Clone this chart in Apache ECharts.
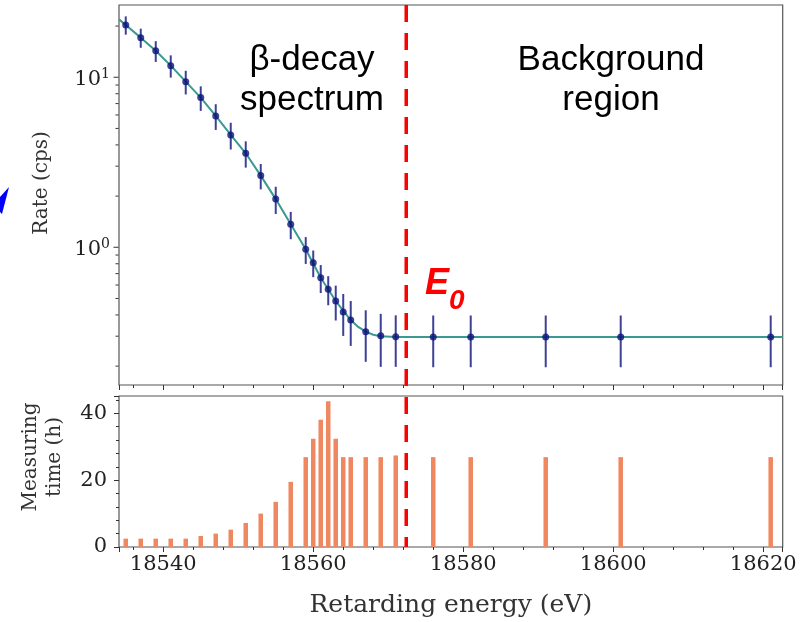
<!DOCTYPE html>
<html>
<head>
<meta charset="utf-8">
<script src="https://cdn.jsdelivr.net/npm/echarts@6/dist/echarts.min.js"></script>
<style>
  html, body { margin: 0; padding: 0; background: #ffffff; }
  #chart { width: 804px; height: 622px; }
</style>
</head>
<body>
<div id="chart"></div>
<script>
// ---------------- data ----------------
const energies = [18535, 18537, 18539, 18541, 18543, 18545, 18547, 18549, 18551, 18553, 18555, 18557, 18559, 18560, 18561, 18562, 18563, 18564, 18565, 18567, 18569, 18571, 18576, 18581, 18591, 18601, 18621];
const rate = [20.3, 17.1, 14.3, 11.7, 9.42, 7.59, 5.92, 4.58, 3.57, 2.64, 1.92, 1.365, 0.973, 0.812, 0.662, 0.566, 0.483, 0.416, 0.373, 0.319, 0.302, 0.298, 0.297, 0.297, 0.297, 0.297, 0.297];
const rateErr = [2.5, 2.2, 2.0, 1.75, 1.5, 1.25, 1.02, 0.82, 0.63, 0.45, 0.35, 0.25, 0.175, 0.145, 0.124, 0.11, 0.112, 0.115, 0.11, 0.107, 0.104, 0.1, 0.1, 0.1, 0.1, 0.1, 0.1];
const measTime = [2.5, 2.5, 2.5, 2.5, 2.5, 3.3, 4.0, 5.2, 7.2, 10.0, 13.5, 19.5, 26.9, 32.4, 38.1, 43.6, 32.4, 26.9, 26.9, 26.9, 26.9, 27.4, 26.9, 26.9, 26.9, 26.9, 26.9];
const fitEnergy = [18534.1, 18535, 18537, 18539, 18541, 18543, 18545, 18547, 18549, 18551, 18553, 18555, 18557, 18559, 18561, 18563, 18565, 18566, 18567, 18568, 18569, 18571, 18622.6];
const fitRate = [21.9, 20.3, 17.1, 14.3, 11.7, 9.42, 7.59, 5.92, 4.58, 3.57, 2.64, 1.92, 1.365, 0.973, 0.662, 0.483, 0.373, 0.34, 0.319, 0.306, 0.300, 0.297, 0.297];
const endpointE0 = 18572.4;
const xRange = [18534.1, 18622.6];
const rateRange = [0.1549, 26.6];
const timeRange = [0, 45.2];
const logMajorTicks = [1, 10];
const logMajorExp = ['0', '1'];
const logMinorTicks = [0.2, 0.3, 0.4, 0.5, 0.6, 0.7, 0.8, 0.9, 2, 3, 4, 5, 6, 7, 8, 9, 20];

// ---------------- chart ----------------
const chart = echarts.init(document.getElementById('chart'), null, { renderer: 'canvas' });
const SERIF = 'DejaVu Serif';
const SANS = 'Liberation Sans';
const frameColor = '#555555';
const tickColor = '#333333';

const gridTop = { left: 119, top: 5, width: 663.7, height: 380 };
const gridBot = { left: 119, top: 396, width: 663.7, height: 151 };

const tickData = [];
logMajorTicks.forEach((v, i) => tickData.push([xRange[0], v, 1, i]));
logMinorTicks.forEach(v => tickData.push([xRange[0], v, 0, -1]));

const option = {
  animation: false,
  backgroundColor: '#ffffff',
  grid: [
    Object.assign({ show: true, borderColor: frameColor, borderWidth: 1.2, backgroundColor: 'transparent' }, gridTop),
    Object.assign({ show: true, borderColor: frameColor, borderWidth: 1.2, backgroundColor: 'transparent' }, gridBot),
    { left: 119, top: 5, width: 663.7, height: 542, show: false }
  ],
  xAxis: [
    { gridIndex: 0, type: 'value', min: xRange[0], max: xRange[1],
      axisLine: { show: false }, splitLine: { show: false },
      axisTick: { show: true, inside: false, length: 5, lineStyle: { color: tickColor } },
      minorTick: { show: true, splitNumber: 5, length: 3, lineStyle: { color: tickColor } },
      axisLabel: { show: false } },
    { gridIndex: 1, type: 'value', min: xRange[0], max: xRange[1],
      axisLine: { show: false }, splitLine: { show: false },
      axisTick: { show: true, inside: false, length: 5, lineStyle: { color: tickColor } },
      minorTick: { show: true, splitNumber: 5, length: 3, lineStyle: { color: tickColor } },
      axisLabel: { show: true, showMinLabel: false, showMaxLabel: false, margin: 7,
        fontFamily: SERIF, fontSize: 21, color: '#222',
        formatter: v => (Math.abs(v % 20) < 1e-6 ? String(v) : '') },
      name: 'Retarding energy (eV)', nameLocation: 'middle', nameGap: 46,
      nameTextStyle: { fontFamily: SERIF, fontSize: 25, color: '#333' } },
    { gridIndex: 2, type: 'value', min: xRange[0], max: xRange[1], show: false }
  ],
  yAxis: [
    { gridIndex: 0, type: 'log', logBase: 10, min: rateRange[0], max: rateRange[1],
      axisLine: { show: false }, splitLine: { show: false },
      axisTick: { show: false }, axisLabel: { show: false } },
    { gridIndex: 1, type: 'value', min: timeRange[0], max: timeRange[1], interval: 20,
      axisLine: { show: false }, splitLine: { show: false },
      axisTick: { show: true, inside: false, length: 5, lineStyle: { color: tickColor } },
      minorTick: { show: true, splitNumber: 5, length: 3, lineStyle: { color: tickColor } },
      axisLabel: { show: true, showMaxLabel: false, margin: 12, fontFamily: SERIF, fontSize: 21, color: '#222',
        formatter: v => (Math.abs(v % 20) < 1e-6 ? String(v) : '') } },
    { gridIndex: 2, type: 'value', min: 0, max: 1, show: false }
  ],
  series: [
    { type: 'line', xAxisIndex: 0, yAxisIndex: 0, data: fitEnergy.map((x, i) => [x, fitRate[i]]),
      symbol: 'none', lineStyle: { color: '#3a9a92', width: 2 }, z: 2 },
    { type: 'custom', xAxisIndex: 0, yAxisIndex: 0,
      data: energies.map((x, i) => [x, rate[i], rateErr[i]]),
      encode: { x: 0, y: 1 },
      renderItem: function (params, api) {
        const x = api.value(0), y = api.value(1), e = api.value(2);
        const p1 = api.coord([x, y + e]);
        const p2 = api.coord([x, y - e]);
        return { type: 'line', shape: { x1: p1[0], y1: p1[1], x2: p2[0], y2: p2[1] },
          style: { stroke: '#3d4196', lineWidth: 2 } };
      }, z: 3 },
    { type: 'scatter', xAxisIndex: 0, yAxisIndex: 0, data: energies.map((x, i) => [x, rate[i]]),
      symbol: 'circle', symbolSize: 7, itemStyle: { color: '#0a1478' }, z: 4 },
    { type: 'custom', xAxisIndex: 0, yAxisIndex: 0, data: tickData, encode: { x: 0, y: 1 }, clip: false,
      renderItem: function (params, api) {
        const v = api.value(1), major = api.value(2), idx = api.value(3);
        const p = api.coord([api.value(0), v]);
        const len = major ? 5 : 3;
        const children = [{ type: 'line', shape: { x1: p[0] - 0.5, y1: p[1], x2: p[0] - 0.5 - len, y2: p[1] },
          style: { stroke: tickColor, lineWidth: 1 } }];
        if (major) {
          children.push({ type: 'text', x: p[0] - 18, y: p[1] + 2.5,
            style: { text: '10', fontFamily: SERIF, fontSize: 21, fill: '#222', align: 'right', verticalAlign: 'middle' } });
          children.push({ type: 'text', x: p[0] - 18, y: p[1] - 3,
            style: { text: logMajorExp[idx], fontFamily: SERIF, fontSize: 14, fill: '#222', align: 'left', verticalAlign: 'middle' } });
        }
        return { type: 'group', children: children };
      }, z: 5 },
    { type: 'bar', xAxisIndex: 1, yAxisIndex: 1, data: energies.map((x, i) => [x, measTime[i]]),
      barWidth: 4.5, itemStyle: { color: '#ef8860' }, z: 2 },
    { type: 'line', xAxisIndex: 2, yAxisIndex: 2, data: [[endpointE0, 1], [endpointE0, 0]],
      symbol: 'none', lineStyle: { color: '#ff0000', width: 3.5, type: [17, 11] }, z: 10 }
  ],
  graphic: [
    { type: 'text', x: 312, y: 40, style: { text: 'β-decay\nspectrum', fontFamily: SANS, fontSize: 35, lineHeight: 40, fill: '#000', align: 'center', verticalAlign: 'top' } },
    { type: 'text', x: 611, y: 40, style: { text: 'Background\nregion', fontFamily: SANS, fontSize: 35, lineHeight: 40, fill: '#000', align: 'center', verticalAlign: 'top' } },
    { type: 'text', x: 425, y: 266, style: { text: 'E', fontFamily: SANS, fontSize: 36, fontWeight: 'bold', fontStyle: 'italic', fill: '#ff0000', align: 'left', verticalAlign: 'top' } },
    { type: 'text', x: 449, y: 287, style: { text: '0', fontFamily: SANS, fontSize: 28, fontWeight: 'bold', fontStyle: 'italic', fill: '#ff0000', align: 'left', verticalAlign: 'top' } },
    { type: 'text', x: 42, y: 183, rotation: Math.PI / 2, style: { text: 'Rate (cps)', fontFamily: SERIF, fontSize: 20, fill: '#333', align: 'center', verticalAlign: 'middle' } },
    { type: 'text', x: 43, y: 457, rotation: Math.PI / 2, style: { text: 'Measuring\ntime (h)', fontFamily: SERIF, fontSize: 20, lineHeight: 24, fill: '#333', align: 'center', verticalAlign: 'middle' } },
    { type: 'polygon', shape: { points: [[0, 197], [9, 187], [2, 214], [0, 212]] }, style: { fill: '#0000ff' } }
  ]
};
chart.setOption(option);
</script>
</body>
</html>
